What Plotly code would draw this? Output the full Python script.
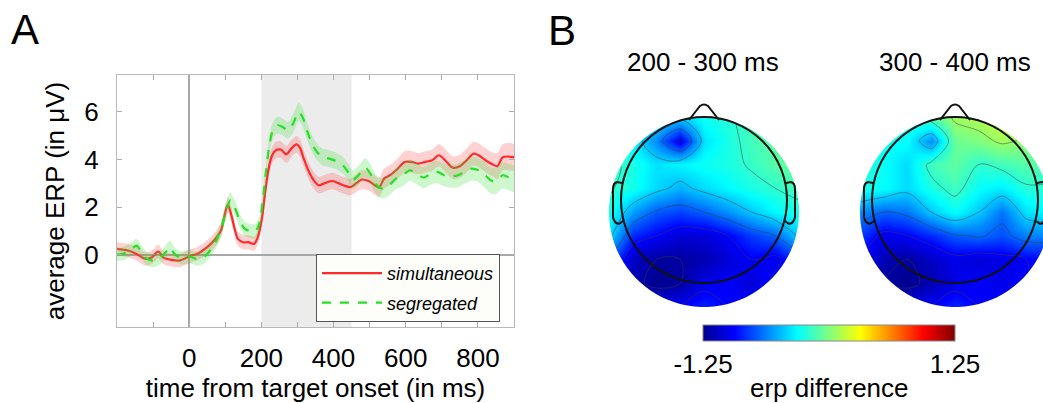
import numpy as np
import plotly.graph_objects as go

# ---------------- Panel A data (ERP time courses) ----------------
t_sim = [-200, -170, -146, -122, -103, -86, -70, -50, -27, 0,
         26, 50, 69, 88, 97, 107, 116, 126, 135, 150,
         164, 180, 190, 202, 211, 221, 230, 240, 254, 269,
         283, 297, 307, 316, 330, 345, 359, 378, 397, 416,
         435, 448, 464, 478, 497, 511, 526, 540, 559, 578,
         597, 616, 635, 654, 673, 692, 711, 730, 750, 769,
         788, 802, 821, 840, 854, 869, 900]
erp_sim = [0.25, 0.18, 0.04, -0.17, -0.10, 0.14, -0.13, -0.21, -0.24, -0.07,
           0.07, 0.32, 0.60, 1.02, 1.58, 2.12, 1.72, 1.09, 0.67, 0.53,
           0.53, 0.46, 0.74, 1.58, 2.70, 3.69, 4.18, 4.39, 4.42, 4.22,
           4.46, 4.64, 4.50, 4.10, 3.55, 3.13, 2.92, 3.02, 3.10, 2.99,
           2.88, 2.85, 3.02, 3.16, 3.10, 2.96, 2.82, 3.20, 3.37, 3.62,
           3.90, 3.90, 3.83, 3.90, 3.97, 4.18, 3.94, 3.66, 3.72, 3.97,
           4.25, 4.18, 3.97, 3.80, 3.72, 4.10, 4.10]
sem_sim = [0.28, 0.28, 0.28, 0.28, 0.28, 0.28, 0.28, 0.28, 0.28, 0.28,
           0.28, 0.30, 0.30, 0.32, 0.32, 0.32, 0.32, 0.30, 0.30, 0.30,
           0.30, 0.30, 0.30, 0.32, 0.35, 0.35, 0.35, 0.35, 0.35, 0.35,
           0.35, 0.35, 0.35, 0.35, 0.35, 0.35, 0.35, 0.35, 0.35, 0.35,
           0.35, 0.35, 0.38, 0.40, 0.40, 0.40, 0.40, 0.42, 0.42, 0.42,
           0.45, 0.45, 0.45, 0.45, 0.45, 0.47, 0.47, 0.47, 0.48, 0.50,
           0.50, 0.50, 0.50, 0.50, 0.55, 0.55, 0.55]

t_seg = [-200, -179, -160, -146, -131, -117, -98, -79, -65, -53,
         -41, -22, 0, 21, 40, 54, 73, 88, 102, 114,
         126, 140, 154, 169, 183, 194, 204, 213, 223, 232,
         245, 259, 273, 288, 303, 314, 326, 340, 354, 369,
         388, 407, 426, 440, 454, 469, 488, 502, 516, 535,
         554, 573, 592, 611, 630, 650, 669, 688, 707, 726,
         745, 764, 783, 802, 821, 835, 849, 869, 883, 900]
erp_seg = [0.01, 0.07, 0.25, 0.39, 0.11, -0.17, -0.24, -0.10, 0.11, 0.32,
           0.04, -0.13, -0.07, -0.17, -0.10, 0.11, 0.53, 1.09, 1.80, 2.29,
           2.00, 1.44, 1.09, 1.00, 0.98, 1.30, 2.29, 3.55, 4.67, 5.23,
           5.44, 5.37, 5.23, 5.51, 6.00, 5.79, 5.23, 4.67, 4.32, 4.11,
           4.04, 3.94, 3.76, 3.48, 3.16, 3.34, 3.66, 3.41, 2.99, 2.78,
           2.92, 3.20, 3.34, 3.55, 3.41, 3.24, 3.41, 3.48, 3.34, 3.30,
           3.34, 3.48, 3.62, 3.55, 3.34, 3.13, 3.10, 3.34, 3.27, 3.20]
sem_seg = [0.28, 0.28, 0.28, 0.28, 0.28, 0.28, 0.28, 0.28, 0.28, 0.28,
           0.28, 0.28, 0.28, 0.28, 0.28, 0.28, 0.30, 0.30, 0.32, 0.32,
           0.32, 0.30, 0.30, 0.30, 0.30, 0.30, 0.32, 0.35, 0.35, 0.35,
           0.35, 0.35, 0.35, 0.38, 0.38, 0.38, 0.35, 0.35, 0.35, 0.35,
           0.35, 0.35, 0.35, 0.35, 0.38, 0.40, 0.40, 0.40, 0.40, 0.42,
           0.42, 0.45, 0.45, 0.45, 0.45, 0.45, 0.47, 0.47, 0.47, 0.48,
           0.50, 0.50, 0.50, 0.50, 0.55, 0.55, 0.55, 0.55, 0.55, 0.55]

series_names = ["simultaneous", "segregated"]
x_tickvals = [-100, 0, 100, 200, 300, 400, 500, 600, 700, 800, 900]
x_ticktext = ["", "0", "", "200", "", "400", "", "600", "", "800", ""]
y_tickvals = [0, 2, 4, 6]
y_ticktext = ["0", "2", "4", "6"]
window_ms = [200, 450]

# ---------------- Panel B data (topographic maps, 9x9 grid, top row first) ----------------
topo_titles = ["200 - 300 ms", "300 - 400 ms"]
topo_200_300 = [
    [-0.22, -0.30, -0.35, -0.40, -0.28, -0.22, -0.15, -0.10, -0.05],
    [-0.25, -0.35, -0.60, -1.00, -0.38, -0.25, -0.15, -0.08, -0.05],
    [-0.15, -0.25, -0.38, -0.33, -0.28, -0.25, -0.18, -0.10, -0.05],
    [-0.18, -0.27, -0.40, -0.50, -0.40, -0.32, -0.25, -0.20, -0.15],
    [-0.25, -0.55, -0.72, -0.78, -0.70, -0.58, -0.45, -0.32, -0.25],
    [-0.40, -0.85, -0.95, -1.05, -1.05, -0.95, -0.80, -0.70, -0.42],
    [-0.70, -1.10, -1.20, -1.20, -1.15, -1.05, -0.95, -1.00, -0.80],
    [-0.90, -1.15, -1.25, -1.20, -1.00, -0.95, -1.05, -0.90, -0.85],
    [-0.90, -0.95, -1.00, -0.95, -0.85, -0.95, -0.95, -0.90, -0.85],
]
topo_300_400 = [
    [-0.25, -0.25, -0.25, -0.10, 0.08, 0.12, 0.22, 0.28, 0.18],
    [-0.25, -0.30, -0.30, -0.60, -0.05, 0.00, 0.08, 0.03, -0.02],
    [-0.20, -0.30, -0.40, -0.15, -0.08, -0.20, -0.15, -0.10, -0.12],
    [-0.25, -0.30, -0.40, -0.25, -0.15, -0.30, -0.35, -0.22, -0.22],
    [-0.60, -0.70, -0.65, -0.45, -0.30, -0.45, -0.65, -0.38, -0.32],
    [-0.80, -1.00, -0.95, -0.85, -0.72, -0.68, -0.75, -0.62, -0.62],
    [-0.95, -1.15, -1.20, -1.10, -1.00, -1.05, -1.00, -0.95, -0.90],
    [-1.00, -1.20, -1.25, -1.15, -1.00, -0.95, -1.00, -0.95, -0.90],
    [-0.95, -1.00, -1.00, -0.95, -0.85, -0.95, -0.95, -0.90, -0.90],
]
cbar_range = [-1.25, 1.25]
cbar_ticktext = ["-1.25", "1.25"]
cbar_title = "erp difference"

# ---------------- figure ----------------
W, H = 1043, 403
FONT = "Liberation Sans, Arial, sans-serif"
RED, GREEN = "#ff2b2b", "#25e025"

def px_x(p):
    return p / W

def px_y(p):
    return 1 - p / H

fig = go.Figure()

def band(t, v, s, color):
    t = list(t)
    up = [a + b for a, b in zip(v, s)]
    lo = [a - b for a, b in zip(v, s)]
    return go.Scatter(x=t + t[::-1], y=up + lo[::-1], fill="toself", fillcolor=color,
                      line=dict(width=0, shape="spline", smoothing=0.8), mode="lines",
                      hoverinfo="skip", showlegend=False, xaxis="x", yaxis="y")

fig.add_trace(band(t_sim, erp_sim, sem_sim, "rgba(255,70,70,0.25)"))
fig.add_trace(go.Scatter(x=t_sim, y=erp_sim, mode="lines", name=series_names[0],
                         line=dict(color=RED, width=2.2, shape="spline", smoothing=0.8),
                         legendgroup="a", xaxis="x", yaxis="y"))
fig.add_trace(band(t_seg, erp_seg, sem_seg, "rgba(60,225,60,0.25)"))
fig.add_trace(go.Scatter(x=t_seg, y=erp_seg, mode="lines", name=series_names[1],
                         line=dict(color=GREEN, width=2.2, dash="dash", shape="spline", smoothing=0.8),
                         legendgroup="b", xaxis="x", yaxis="y"))

# topographic maps
grid_x = np.linspace(-95, 95, 9)
grid_y = np.linspace(-107, 83, 9)
jet = [[0.0, "#00008f"], [0.125, "#0000ff"], [0.375, "#00ffff"],
       [0.625, "#ffff00"], [0.875, "#ff0000"], [1.0, "#800000"]]

for i, z in enumerate([topo_200_300, topo_300_400]):
    ax = str(i + 2)
    zz = np.array(z)[::-1]
    fig.add_trace(go.Heatmap(x=grid_x, y=grid_y, z=zz, zsmooth="best", coloraxis="coloraxis",
                             xaxis="x" + ax, yaxis="y" + ax, hoverinfo="skip"))
    fig.add_trace(go.Contour(x=grid_x, y=grid_y, z=zz, showscale=False,
                             contours=dict(coloring="none", start=-1.2, end=1.2, size=0.25),
                             line=dict(color="rgba(60,60,60,0.5)", width=1, smoothing=1.0),
                             xaxis="x" + ax, yaxis="y" + ax, hoverinfo="skip", showlegend=False))

# circle polygon helper (geometry for masks)
def circle_pts(cx, cy, r, n=90, reverse=False):
    a = np.linspace(0, 2 * np.pi, n, endpoint=False)
    if reverse:
        a = a[::-1]
    return [(cx + r * np.cos(t), cy + r * np.sin(t)) for t in a]

def poly_path(pts):
    s = "M %.2f %.2f " % pts[0]
    s += " ".join("L %.2f %.2f" % p for p in pts[1:])
    return s + " Z"

shapes = [dict(type="rect", xref="x", yref="y domain", x0=window_ms[0], x1=window_ms[1], y0=0, y1=1,
               fillcolor="#ececec", line=dict(width=0), layer="below")]

for i in range(2):
    xr, yr = "x" + str(i + 2), "y" + str(i + 2)
    rect = [(-140, -140), (140, -140), (140, 140), (-140, 140)]
    mask = poly_path(rect) + " " + poly_path(circle_pts(0, -12, 95, reverse=True))
    shapes.append(dict(type="path", xref=xr, yref=yr, path=mask, fillcolor="white",
                       fillrule="evenodd", line=dict(width=0), layer="above"))
    shapes.append(dict(type="circle", xref=xr, yref=yr, x0=-83, y0=-83, x1=83, y1=83,
                       line=dict(color="#111", width=2), layer="above"))
    shapes.append(dict(type="path", xref=xr, yref=yr,
                       path="M -15 80 L -4 94 Q 0 97 4 94 L 15 80",
                       line=dict(color="#111", width=2), layer="above"))
    shapes.append(dict(type="path", xref=xr, yref=yr,
                       path="M -82 17 L -87 18 Q -91 17 -91 11 L -91 -17 Q -90 -23 -85 -24 L -81 -21",
                       line=dict(color="#111", width=2), layer="above"))
    shapes.append(dict(type="path", xref=xr, yref=yr,
                       path="M 82 17 L 87 18 Q 91 17 91 11 L 91 -17 Q 90 -23 85 -24 L 81 -21",
                       line=dict(color="#111", width=2), layer="above"))

def label(text, x, y, size):
    return dict(text=text, x=px_x(x), y=px_y(y), xref="paper", yref="paper", showarrow=False,
                xanchor="center", yanchor="middle", font=dict(size=size, family=FONT, color="black"))

annotations = [
    label("A", 25, 29, 42),
    label("B", 562, 30, 42),
    label(topo_titles[0], 703, 62, 26),
    label(topo_titles[1], 955, 62, 26),
    label(cbar_title, 829, 388, 26),
]

ydom = [px_y(315), px_y(85)]
fig.update_layout(
    width=W, height=H, margin=dict(l=0, r=0, t=0, b=0),
    paper_bgcolor="white", plot_bgcolor="white",
    font=dict(family=FONT, size=26, color="black"),
    shapes=shapes, annotations=annotations,
    xaxis=dict(domain=[px_x(117), px_x(514)], range=[-200, 900], tickvals=x_tickvals, ticktext=x_ticktext,
               ticks="inside", ticklen=5, tickcolor="#aaa", showline=True, linecolor="#b8b8b8", mirror="ticks",
               showgrid=False, zeroline=True, zerolinecolor="#a8a8a8", zerolinewidth=1.5,
               ticklabelstandoff=8, tickfont=dict(size=26),
               title=dict(text="time from target onset (in ms)", font=dict(size=26), standoff=6)),
    yaxis=dict(domain=[px_y(327), px_y(75)], range=[-3.03, 7.55], tickvals=y_tickvals, ticktext=y_ticktext,
               ticks="inside", ticklen=5, tickcolor="#aaa", showline=True, linecolor="#b8b8b8", mirror="ticks",
               showgrid=False, zeroline=True, zerolinecolor="#a8a8a8", zerolinewidth=1.5,
               ticklabelstandoff=12, tickfont=dict(size=26),
               title=dict(text="average ERP (in μV)", font=dict(size=26), standoff=12)),
    xaxis2=dict(domain=[px_x(589), px_x(819)], range=[-115, 115], visible=False),
    yaxis2=dict(domain=ydom, range=[-115, 115], visible=False),
    xaxis3=dict(domain=[px_x(840), 1.0], range=[-115, 88], visible=False),
    yaxis3=dict(domain=ydom, range=[-115, 115], visible=False),
    coloraxis=dict(colorscale=jet, cmin=cbar_range[0], cmax=cbar_range[1],
                   colorbar=dict(orientation="h", x=px_x(829), xanchor="center", y=px_y(325), yanchor="top",
                                 lenmode="pixels", len=252, thicknessmode="pixels", thickness=16,
                                 tickvals=cbar_range, ticktext=cbar_ticktext, ticks="",
                                 tickfont=dict(size=26, family=FONT), outlinewidth=1, outlinecolor="#888",
                                 xpad=0, ypad=0)),
    legend=dict(x=px_x(316), y=px_y(254), xanchor="left", yanchor="top", bgcolor="#fdfdf9",
                bordercolor="#555", borderwidth=1, font=dict(size=18, style="italic", family=FONT),
                itemwidth=60, tracegroupgap=3, traceorder="grouped"),
    showlegend=True,
)

fig.write_html("out.html")
